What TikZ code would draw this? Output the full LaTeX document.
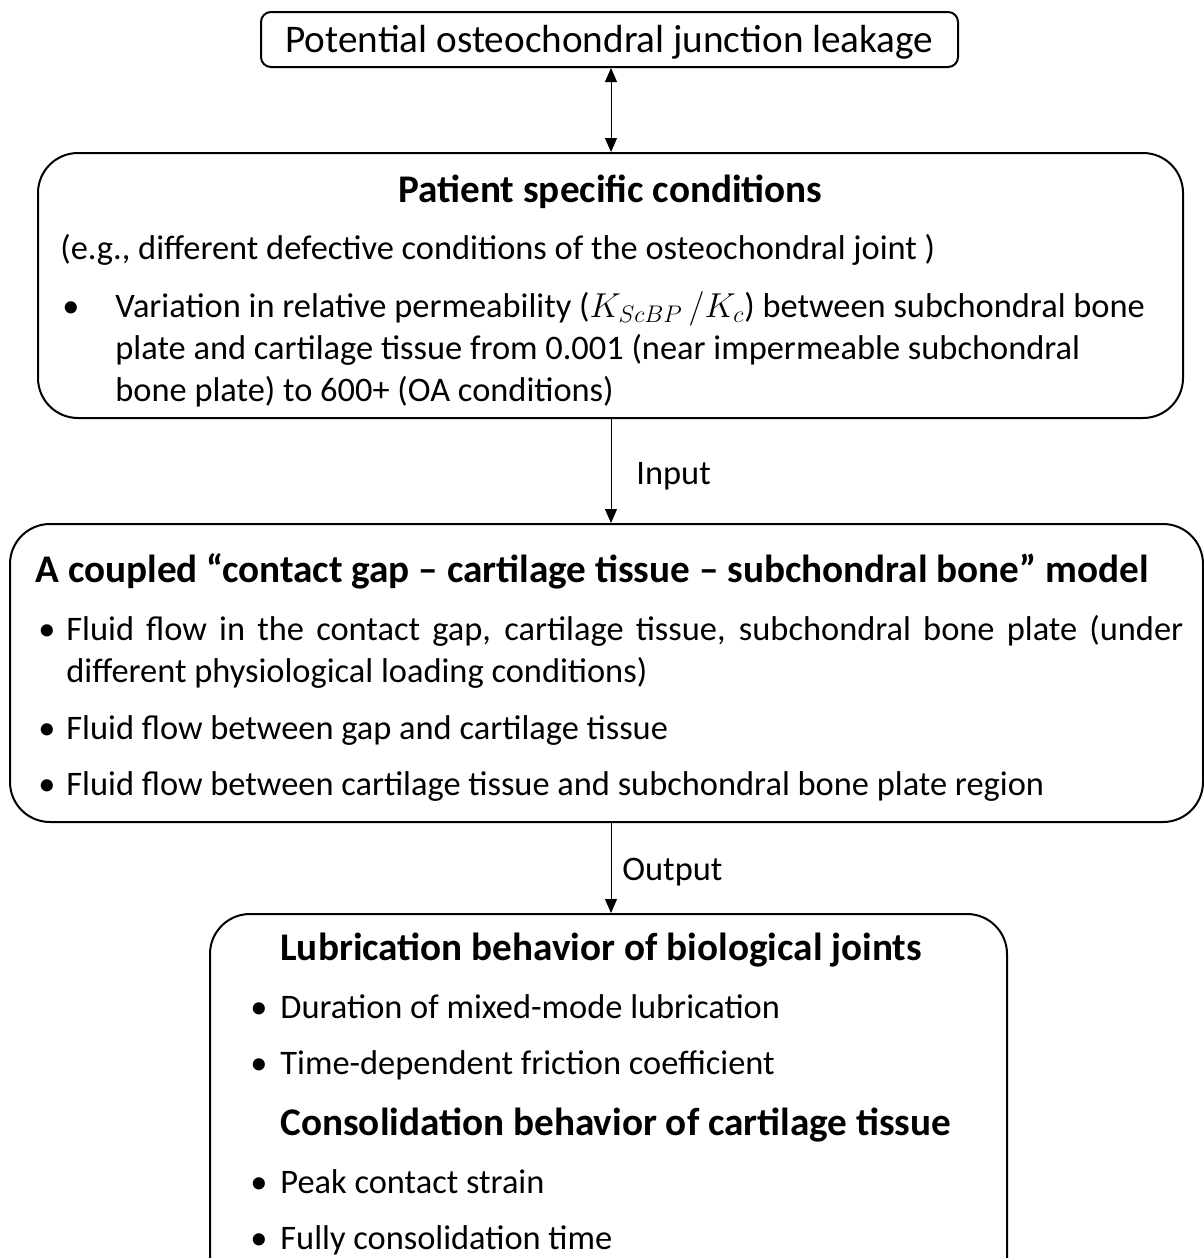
\documentclass[tikz,border=0pt]{standalone}
\usepackage{fontspec}
\setmainfont{Carlito}
\usetikzlibrary{arrows.meta}
\begin{document}
\begin{tikzpicture}[x=0.5pt,y=-0.5pt,
  box/.style={draw, line width=1pt, rounded corners=#1, inner sep=0pt},
  txt/.style={anchor=base west, inner sep=0pt, font=\fontsize{17.2}{21}\selectfont},
  ttl/.style={anchor=base west, inner sep=0pt, font=\fontsize{19.6}{21}\selectfont\bfseries},
  ctr/.style={anchor=base, inner sep=0pt, font=\fontsize{19.6}{21}\selectfont},
  conn/.style={line width=0.5pt, -{Triangle[length=7pt,width=6pt]}},
  dconn/.style={line width=0.5pt, {Triangle[length=7pt,width=6pt]}-{Triangle[length=7pt,width=6pt]}},
]
\useasboundingbox (0,0) rectangle (1204,1258);
% boxes
\node[box=5pt, minimum width=348.5pt, minimum height=27.5pt] (b0) at (609.5,39.5) {};
\node[box=20pt, minimum width=572.5pt, minimum height=132.5pt] (b1) at (610.5,285.5) {};
\node[box=20pt, minimum width=596.5pt, minimum height=149pt] (b2) at (606.5,673) {};
\node[box=20pt, minimum width=398.5pt, minimum height=193pt] (b3) at (608.5,1107) {};
\coordinate (ax) at (611,0);
% connectors
\draw[dconn] (b0.south -| ax) -- (b1.north -| ax);
\draw[conn] (b1.south -| ax) -- (b2.north -| ax);
\draw[conn] (b2.south -| ax) -- (b3.north -| ax);
\node[txt] (lin) at (636,484) {Input};
\node[txt] (lout) at (622,880) {Output};
% box 0
\node[ctr] (t0) at (609.5,52) {Potential osteochondral junction leakage};
% box 1
\node[ctr, font=\fontsize{19.6}{21}\selectfont\bfseries] (t1) at (610.5,202) {Patient specific conditions};
\node[txt] (t1a) at (60,259) {(e.g., different defective conditions of the osteochondral joint )};
\node[txt] (t1bul) at (62,317) {•};
\node[txt] (t1b) at (115,317) {Variation in relative permeability ($K_{ScBP}\,/K_c$) between subchondral bone};
\node[txt] (t1c) at (115,359) {plate and cartilage tissue from 0.001 (near impermeable subchondral};
\node[txt] (t1d) at (115,401) {bone plate) to 600+ (OA conditions)};
% box 2
\node[ttl] (t2) at (35,582) {A coupled “contact gap – cartilage tissue – subchondral bone” model};
\node[txt] (t2b1) at (38,640) {•};
\node[txt] (t2a) at (66,640) {\makebox[558.5pt][s]{Fluid flow in the contact gap, cartilage tissue, subchondral bone plate (under}};
\node[txt] (t2a2) at (66,682) {different physiological loading conditions)};
\node[txt] (t2b2) at (38,739) {•};
\node[txt] (t2b) at (66,739) {Fluid flow between gap and cartilage tissue};
\node[txt] (t2b3) at (38,795) {•};
\node[txt] (t2c) at (66,795) {Fluid flow between cartilage tissue and subchondral bone plate region};
% box 3
\node[ttl] (t3) at (280,960) {Lubrication behavior of biological joints};
\node[txt] (t3b1) at (250,1018) {•};
\node[txt] (t3a) at (280,1018) {Duration of mixed-mode lubrication};
\node[txt] (t3b2) at (250,1074) {•};
\node[txt] (t3b) at (280,1074) {Time-dependent friction coefficient};
\node[ttl] (t4) at (280,1135) {Consolidation behavior of cartilage tissue};
\node[txt] (t3b3) at (250,1193) {•};
\node[txt] (t3c) at (280,1193) {Peak contact strain};
\node[txt] (t3b4) at (250,1249) {•};
\node[txt] (t3d) at (280,1249) {Fully consolidation time};
\end{tikzpicture}
\end{document}
